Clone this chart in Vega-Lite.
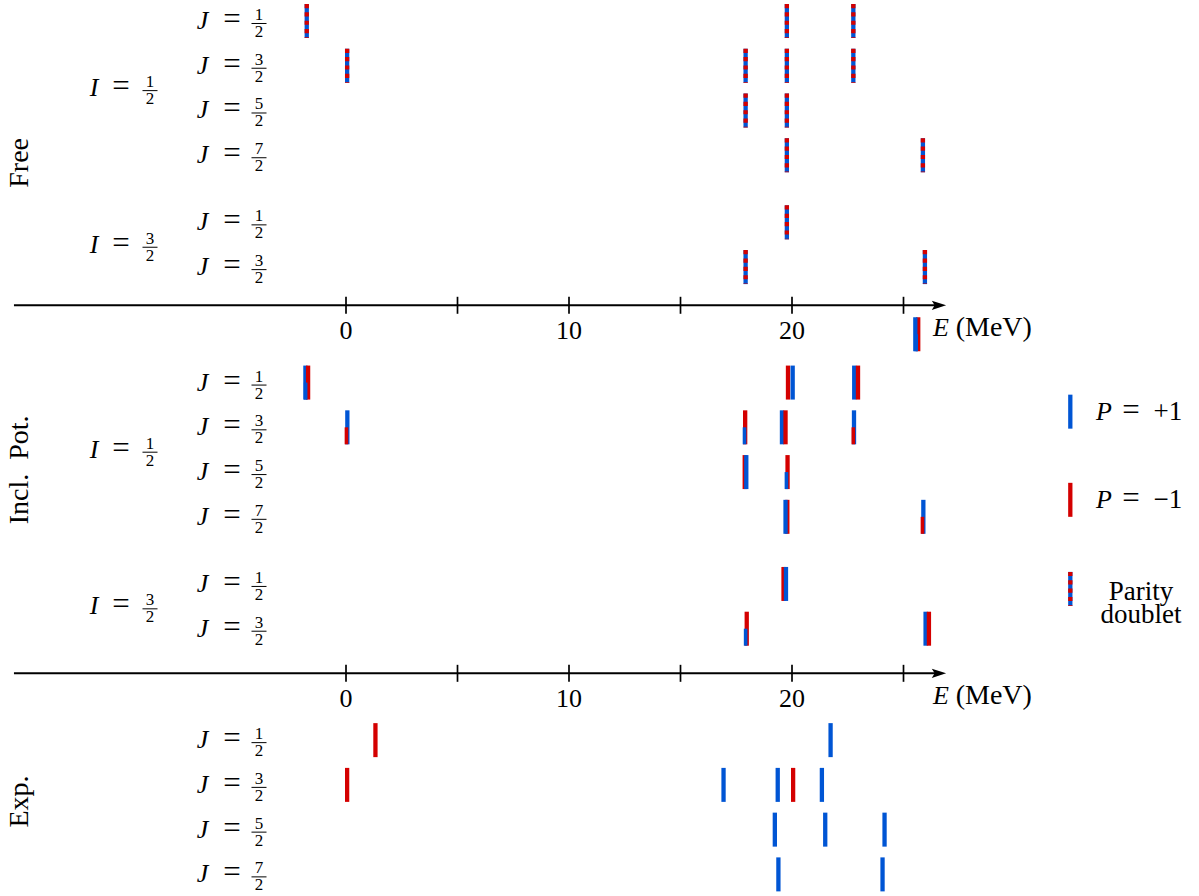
{
  "$schema": "https://vega.github.io/schema/vega-lite/v6.json",
  "width": 1199,
  "height": 896,
  "autosize": {"type": "fit", "contains": "padding"},
  "padding": 0,
  "background": "white",
  "view": {"stroke": null},
  "datasets": {
    "axes": [{"row": 6.353}, {"row": 14.577}],
    "ticks": [
      {"E": 0, "row": 6.353, "label": "0"}, {"E": 5, "row": 6.353, "label": ""}, {"E": 10, "row": 6.353, "label": "10"},
      {"E": 15, "row": 6.353, "label": ""}, {"E": 20, "row": 6.353, "label": "20"}, {"E": 25, "row": 6.353, "label": ""},
      {"E": 0, "row": 14.577, "label": "0"}, {"E": 5, "row": 14.577, "label": ""}, {"E": 10, "row": 14.577, "label": "10"},
      {"E": 15, "row": 14.577, "label": ""}, {"E": 20, "row": 14.577, "label": "20"}, {"E": 25, "row": 14.577, "label": ""}
    ],
    "free": [
      {"E": -1.76, "row": 0}, {"E": 19.77, "row": 0}, {"E": 22.75, "row": 0},
      {"E": 0.05, "row": 1}, {"E": 17.92, "row": 1}, {"E": 19.77, "row": 1}, {"E": 22.75, "row": 1},
      {"E": 17.92, "row": 2}, {"E": 19.77, "row": 2},
      {"E": 19.77, "row": 3}, {"E": 25.87, "row": 3},
      {"E": 19.77, "row": 4.5},
      {"E": 17.92, "row": 5.5}, {"E": 25.96, "row": 5.5}
    ],
    "levels": [
      {"E": 25.66, "row": 7.0, "P": "-", "part": "full"}, {"E": 25.53, "row": 7.0, "P": "+", "part": "full"}, {"E": 25.57, "row": 7.0, "P": "+", "part": "lower"},
      {"E": -1.82, "row": 8.08, "P": "+", "part": "full"}, {"E": -1.70, "row": 8.08, "P": "-", "part": "full"}, {"E": -1.81, "row": 8.08, "P": "+", "part": "lower"},
      {"E": 19.82, "row": 8.08, "P": "-", "part": "full"}, {"E": 20.03, "row": 8.08, "P": "+", "part": "full"},
      {"E": 22.79, "row": 8.08, "P": "+", "part": "full"}, {"E": 22.96, "row": 8.08, "P": "-", "part": "full"},
      {"E": 0.06, "row": 9.08, "P": "+", "part": "full"}, {"E": 0.02, "row": 9.08, "P": "-", "part": "lower"},
      {"E": 17.90, "row": 9.08, "P": "-", "part": "full"}, {"E": 17.87, "row": 9.08, "P": "+", "part": "lower"},
      {"E": 19.55, "row": 9.08, "P": "+", "part": "full"}, {"E": 19.71, "row": 9.08, "P": "-", "part": "full"},
      {"E": 22.78, "row": 9.08, "P": "+", "part": "full"}, {"E": 22.75, "row": 9.08, "P": "-", "part": "lower"},
      {"E": 17.88, "row": 10.08, "P": "-", "part": "full"}, {"E": 17.95, "row": 10.08, "P": "+", "part": "full"},
      {"E": 19.80, "row": 10.08, "P": "-", "part": "full"}, {"E": 19.75, "row": 10.08, "P": "+", "part": "lower"},
      {"E": 19.79, "row": 11.08, "P": "-", "part": "full"}, {"E": 19.71, "row": 11.08, "P": "+", "part": "full"},
      {"E": 25.89, "row": 11.08, "P": "+", "part": "full"}, {"E": 25.85, "row": 11.08, "P": "-", "part": "lower"},
      {"E": 19.62, "row": 12.58, "P": "-", "part": "full"}, {"E": 19.73, "row": 12.58, "P": "+", "part": "full"},
      {"E": 17.97, "row": 13.58, "P": "-", "part": "full"}, {"E": 17.92, "row": 13.58, "P": "+", "part": "lower"},
      {"E": 25.99, "row": 13.58, "P": "+", "part": "full"}, {"E": 26.14, "row": 13.58, "P": "-", "part": "full"},
      {"E": 1.32, "row": 16.07, "P": "-", "part": "full"}, {"E": 21.73, "row": 16.07, "P": "+", "part": "full"},
      {"E": 0.05, "row": 17.07, "P": "-", "part": "full"}, {"E": 16.93, "row": 17.07, "P": "+", "part": "full"},
      {"E": 19.36, "row": 17.07, "P": "+", "part": "full"}, {"E": 20.05, "row": 17.07, "P": "-", "part": "full"},
      {"E": 21.34, "row": 17.07, "P": "+", "part": "full"},
      {"E": 19.23, "row": 18.07, "P": "+", "part": "full"}, {"E": 21.49, "row": 18.07, "P": "+", "part": "full"},
      {"E": 24.15, "row": 18.07, "P": "+", "part": "full"},
      {"E": 19.39, "row": 19.07, "P": "+", "part": "full"}, {"E": 24.06, "row": 19.07, "P": "+", "part": "full"}
    ],
    "jl": [
      {"row": 0, "num": "1"}, {"row": 1, "num": "3"}, {"row": 2, "num": "5"}, {"row": 3, "num": "7"},
      {"row": 4.5, "num": "1"}, {"row": 5.5, "num": "3"},
      {"row": 8.08, "num": "1"}, {"row": 9.08, "num": "3"}, {"row": 10.08, "num": "5"}, {"row": 11.08, "num": "7"},
      {"row": 12.58, "num": "1"}, {"row": 13.58, "num": "3"},
      {"row": 16.07, "num": "1"}, {"row": 17.07, "num": "3"}, {"row": 18.07, "num": "5"}, {"row": 19.07, "num": "7"}
    ],
    "il": [
      {"row": 1.5, "num": "1"}, {"row": 5.0, "num": "3"}, {"row": 9.58, "num": "1"}, {"row": 13.08, "num": "3"}
    ],
    "panels": [
      {"row": 3.17, "label": "Free"}, {"row": 10.03, "label": "Incl.\u00a0 Pot."}, {"row": 17.44, "label": "Exp."}
    ],
    "legend": [
      {"row": 8.73, "P": "+", "sym": "+1"}, {"row": 10.7, "P": "-", "sym": "\u22121"}
    ],
    "dlegend": [{"row": 12.69}]
  },
  "layer": [
    {
      "data": {"name": "axes"},
      "mark": {"type": "rule", "color": "black", "strokeWidth": 2},
      "encoding": {
        "x": {"datum": -14.89, "type": "quantitative", "scale": {"domain": [-15.516, 38.251], "nice": false, "zero": false}, "axis": null},
        "x2": {"datum": 26.5},
        "y": {"field": "row", "type": "quantitative", "scale": {"domain": [-0.469, 19.553], "nice": false, "zero": false, "reverse": true}, "axis": null}
      }
    },
    {
      "data": {"name": "axes"},
      "mark": {"type": "point", "shape": "M1,0L-1,-0.65L-0.6,0L-1,0.65Z", "filled": true, "opacity": 1, "color": "black", "size": 205},
      "encoding": {
        "x": {"datum": 26.59, "type": "quantitative", "scale": {"domain": [-15.516, 38.251], "nice": false, "zero": false}, "axis": null},
        "y": {"field": "row", "type": "quantitative", "scale": {"domain": [-0.469, 19.553], "nice": false, "zero": false, "reverse": true}, "axis": null}
      }
    },
    {
      "data": {"name": "ticks"},
      "mark": {"type": "rule", "color": "black", "strokeWidth": 1.7, "yOffset": -8.5, "y2Offset": 8.5},
      "encoding": {
        "x": {"field": "E", "type": "quantitative", "scale": {"domain": [-15.516, 38.251], "nice": false, "zero": false}, "axis": null},
        "y": {"field": "row", "type": "quantitative", "scale": {"domain": [-0.469, 19.553], "nice": false, "zero": false, "reverse": true}, "axis": null},
        "y2": {"field": "row"}
      }
    },
    {
      "data": {"name": "ticks"},
      "transform": [{"filter": "datum.label != ''"}],
      "mark": {"type": "text", "font": "Liberation Serif", "fontSize": 26, "align": "center", "baseline": "middle", "dy": 26, "color": "black"},
      "encoding": {
        "x": {"field": "E", "type": "quantitative", "scale": {"domain": [-15.516, 38.251], "nice": false, "zero": false}, "axis": null},
        "y": {"field": "row", "type": "quantitative", "scale": {"domain": [-0.469, 19.553], "nice": false, "zero": false, "reverse": true}, "axis": null},
        "text": {"field": "label"}
      }
    },
    {
      "data": {"name": "axes"},
      "mark": {"type": "text", "text": "E", "font": "Liberation Serif", "fontStyle": "italic", "fontSize": 26, "align": "center", "baseline": "middle", "dy": 23, "color": "black"},
      "encoding": {
        "x": {"datum": 26.68, "type": "quantitative", "scale": {"domain": [-15.516, 38.251], "nice": false, "zero": false}, "axis": null},
        "y": {"field": "row", "type": "quantitative", "scale": {"domain": [-0.469, 19.553], "nice": false, "zero": false, "reverse": true}, "axis": null}
      }
    },
    {
      "data": {"name": "axes"},
      "mark": {"type": "text", "text": "(MeV)", "font": "Liberation Serif", "fontSize": 28, "align": "center", "baseline": "middle", "dy": 23, "color": "black"},
      "encoding": {
        "x": {"datum": 29.05, "type": "quantitative", "scale": {"domain": [-15.516, 38.251], "nice": false, "zero": false}, "axis": null},
        "y": {"field": "row", "type": "quantitative", "scale": {"domain": [-0.469, 19.553], "nice": false, "zero": false, "reverse": true}, "axis": null}
      }
    },
    {
      "data": {"name": "free"},
      "mark": {"type": "rule", "color": "#0055d4", "strokeWidth": 4.3, "yOffset": -17, "y2Offset": 17},
      "encoding": {
        "x": {"field": "E", "type": "quantitative", "scale": {"domain": [-15.516, 38.251], "nice": false, "zero": false}, "axis": null},
        "y": {"field": "row", "type": "quantitative", "scale": {"domain": [-0.469, 19.553], "nice": false, "zero": false, "reverse": true}, "axis": null},
        "y2": {"field": "row"}
      }
    },
    {
      "data": {"name": "free"},
      "mark": {"type": "rule", "color": "#d40000", "strokeWidth": 4.3, "yOffset": -17, "y2Offset": 17, "strokeDash": [4.17, 4.17]},
      "encoding": {
        "x": {"field": "E", "type": "quantitative", "scale": {"domain": [-15.516, 38.251], "nice": false, "zero": false}, "axis": null},
        "y": {"field": "row", "type": "quantitative", "scale": {"domain": [-0.469, 19.553], "nice": false, "zero": false, "reverse": true}, "axis": null},
        "y2": {"field": "row"}
      }
    },
    {
      "data": {"name": "levels"},
      "transform": [{"filter": "datum.part == 'full'"}],
      "mark": {"type": "rule", "strokeWidth": 4.3, "yOffset": -17, "y2Offset": 17},
      "encoding": {
        "x": {"field": "E", "type": "quantitative", "scale": {"domain": [-15.516, 38.251], "nice": false, "zero": false}, "axis": null},
        "y": {"field": "row", "type": "quantitative", "scale": {"domain": [-0.469, 19.553], "nice": false, "zero": false, "reverse": true}, "axis": null},
        "y2": {"field": "row"},
        "color": {"field": "P", "type": "nominal", "scale": {"domain": ["+", "-"], "range": ["#0055d4", "#d40000"]}, "legend": null}
      }
    },
    {
      "data": {"name": "levels"},
      "transform": [{"filter": "datum.part == 'lower'"}],
      "mark": {"type": "rule", "strokeWidth": 3.6, "yOffset": 0, "y2Offset": 17},
      "encoding": {
        "x": {"field": "E", "type": "quantitative", "scale": {"domain": [-15.516, 38.251], "nice": false, "zero": false}, "axis": null},
        "y": {"field": "row", "type": "quantitative", "scale": {"domain": [-0.469, 19.553], "nice": false, "zero": false, "reverse": true}, "axis": null},
        "y2": {"field": "row"},
        "color": {"field": "P", "type": "nominal", "scale": {"domain": ["+", "-"], "range": ["#0055d4", "#d40000"]}, "legend": null}
      }
    },
    {
      "data": {"name": "jl"},
      "mark": {"type": "text", "text": "J", "font": "Liberation Serif", "fontStyle": "italic", "fontSize": 26, "align": "center", "baseline": "middle", "color": "black"},
      "encoding": {
        "x": {"datum": -6.43, "type": "quantitative", "scale": {"domain": [-15.516, 38.251], "nice": false, "zero": false}, "axis": null},
        "y": {"field": "row", "type": "quantitative", "scale": {"domain": [-0.469, 19.553], "nice": false, "zero": false, "reverse": true}, "axis": null}
      }
    },
    {
      "data": {"name": "jl"},
      "mark": {"type": "text", "text": "=", "font": "Liberation Serif", "fontSize": 31, "align": "center", "baseline": "middle", "dy": -1, "color": "black"},
      "encoding": {
        "x": {"datum": -5.11, "type": "quantitative", "scale": {"domain": [-15.516, 38.251], "nice": false, "zero": false}, "axis": null},
        "y": {"field": "row", "type": "quantitative", "scale": {"domain": [-0.469, 19.553], "nice": false, "zero": false, "reverse": true}, "axis": null}
      }
    },
    {
      "data": {"name": "jl"},
      "mark": {"type": "text", "font": "Liberation Serif", "fontSize": 17, "align": "center", "baseline": "middle", "dy": -6, "color": "black"},
      "encoding": {
        "x": {"datum": -3.90, "type": "quantitative", "scale": {"domain": [-15.516, 38.251], "nice": false, "zero": false}, "axis": null},
        "y": {"field": "row", "type": "quantitative", "scale": {"domain": [-0.469, 19.553], "nice": false, "zero": false, "reverse": true}, "axis": null},
        "text": {"field": "num"}
      }
    },
    {
      "data": {"name": "jl"},
      "mark": {"type": "text", "text": "2", "font": "Liberation Serif", "fontSize": 17, "align": "center", "baseline": "middle", "dy": 11, "color": "black"},
      "encoding": {
        "x": {"datum": -3.90, "type": "quantitative", "scale": {"domain": [-15.516, 38.251], "nice": false, "zero": false}, "axis": null},
        "y": {"field": "row", "type": "quantitative", "scale": {"domain": [-0.469, 19.553], "nice": false, "zero": false, "reverse": true}, "axis": null}
      }
    },
    {
      "data": {"name": "jl"},
      "mark": {"type": "rule", "color": "black", "strokeWidth": 1, "yOffset": 2.5},
      "encoding": {
        "x": {"datum": -4.238, "type": "quantitative", "scale": {"domain": [-15.516, 38.251], "nice": false, "zero": false}, "axis": null},
        "x2": {"datum": -3.565},
        "y": {"field": "row", "type": "quantitative", "scale": {"domain": [-0.469, 19.553], "nice": false, "zero": false, "reverse": true}, "axis": null}
      }
    },
    {
      "data": {"name": "il"},
      "mark": {"type": "text", "text": "I", "font": "Liberation Serif", "fontStyle": "italic", "fontSize": 26, "align": "center", "baseline": "middle", "color": "black"},
      "encoding": {
        "x": {"datum": -11.30, "type": "quantitative", "scale": {"domain": [-15.516, 38.251], "nice": false, "zero": false}, "axis": null},
        "y": {"field": "row", "type": "quantitative", "scale": {"domain": [-0.469, 19.553], "nice": false, "zero": false, "reverse": true}, "axis": null}
      }
    },
    {
      "data": {"name": "il"},
      "mark": {"type": "text", "text": "=", "font": "Liberation Serif", "fontSize": 31, "align": "center", "baseline": "middle", "dy": -1, "color": "black"},
      "encoding": {
        "x": {"datum": -10.09, "type": "quantitative", "scale": {"domain": [-15.516, 38.251], "nice": false, "zero": false}, "axis": null},
        "y": {"field": "row", "type": "quantitative", "scale": {"domain": [-0.469, 19.553], "nice": false, "zero": false, "reverse": true}, "axis": null}
      }
    },
    {
      "data": {"name": "il"},
      "mark": {"type": "text", "font": "Liberation Serif", "fontSize": 17, "align": "center", "baseline": "middle", "dy": -6, "color": "black"},
      "encoding": {
        "x": {"datum": -8.79, "type": "quantitative", "scale": {"domain": [-15.516, 38.251], "nice": false, "zero": false}, "axis": null},
        "y": {"field": "row", "type": "quantitative", "scale": {"domain": [-0.469, 19.553], "nice": false, "zero": false, "reverse": true}, "axis": null},
        "text": {"field": "num"}
      }
    },
    {
      "data": {"name": "il"},
      "mark": {"type": "text", "text": "2", "font": "Liberation Serif", "fontSize": 17, "align": "center", "baseline": "middle", "dy": 11, "color": "black"},
      "encoding": {
        "x": {"datum": -8.79, "type": "quantitative", "scale": {"domain": [-15.516, 38.251], "nice": false, "zero": false}, "axis": null},
        "y": {"field": "row", "type": "quantitative", "scale": {"domain": [-0.469, 19.553], "nice": false, "zero": false, "reverse": true}, "axis": null}
      }
    },
    {
      "data": {"name": "il"},
      "mark": {"type": "rule", "color": "black", "strokeWidth": 1, "yOffset": 2.5},
      "encoding": {
        "x": {"datum": -9.126, "type": "quantitative", "scale": {"domain": [-15.516, 38.251], "nice": false, "zero": false}, "axis": null},
        "x2": {"datum": -8.453},
        "y": {"field": "row", "type": "quantitative", "scale": {"domain": [-0.469, 19.553], "nice": false, "zero": false, "reverse": true}, "axis": null}
      }
    },
    {
      "data": {"name": "panels"},
      "mark": {"type": "text", "font": "Liberation Serif", "fontSize": 28, "align": "center", "baseline": "middle", "angle": 270, "color": "black"},
      "encoding": {
        "x": {"datum": -14.62, "type": "quantitative", "scale": {"domain": [-15.516, 38.251], "nice": false, "zero": false}, "axis": null},
        "y": {"field": "row", "type": "quantitative", "scale": {"domain": [-0.469, 19.553], "nice": false, "zero": false, "reverse": true}, "axis": null},
        "text": {"field": "label"}
      }
    },
    {
      "data": {"name": "legend"},
      "mark": {"type": "rule", "strokeWidth": 4.3, "yOffset": -17, "y2Offset": 17},
      "encoding": {
        "x": {"datum": 32.48, "type": "quantitative", "scale": {"domain": [-15.516, 38.251], "nice": false, "zero": false}, "axis": null},
        "y": {"field": "row", "type": "quantitative", "scale": {"domain": [-0.469, 19.553], "nice": false, "zero": false, "reverse": true}, "axis": null},
        "y2": {"field": "row"},
        "color": {"field": "P", "type": "nominal", "scale": {"domain": ["+", "-"], "range": ["#0055d4", "#d40000"]}, "legend": null}
      }
    },
    {
      "data": {"name": "dlegend"},
      "mark": {"type": "rule", "color": "#0055d4", "strokeWidth": 4.3, "yOffset": -17, "y2Offset": 17},
      "encoding": {
        "x": {"datum": 32.48, "type": "quantitative", "scale": {"domain": [-15.516, 38.251], "nice": false, "zero": false}, "axis": null},
        "y": {"field": "row", "type": "quantitative", "scale": {"domain": [-0.469, 19.553], "nice": false, "zero": false, "reverse": true}, "axis": null},
        "y2": {"field": "row"}
      }
    },
    {
      "data": {"name": "dlegend"},
      "mark": {"type": "rule", "color": "#d40000", "strokeWidth": 4.3, "yOffset": -17, "y2Offset": 17, "strokeDash": [4.17, 4.17]},
      "encoding": {
        "x": {"datum": 32.48, "type": "quantitative", "scale": {"domain": [-15.516, 38.251], "nice": false, "zero": false}, "axis": null},
        "y": {"field": "row", "type": "quantitative", "scale": {"domain": [-0.469, 19.553], "nice": false, "zero": false, "reverse": true}, "axis": null},
        "y2": {"field": "row"}
      }
    },
    {
      "data": {"name": "legend"},
      "mark": {"type": "text", "text": "P", "font": "Liberation Serif", "fontStyle": "italic", "fontSize": 26, "align": "center", "baseline": "middle", "color": "black"},
      "encoding": {
        "x": {"datum": 33.99, "type": "quantitative", "scale": {"domain": [-15.516, 38.251], "nice": false, "zero": false}, "axis": null},
        "y": {"field": "row", "type": "quantitative", "scale": {"domain": [-0.469, 19.553], "nice": false, "zero": false, "reverse": true}, "axis": null}
      }
    },
    {
      "data": {"name": "legend"},
      "mark": {"type": "text", "text": "=", "font": "Liberation Serif", "fontSize": 31, "align": "center", "baseline": "middle", "dy": -1, "color": "black"},
      "encoding": {
        "x": {"datum": 35.20, "type": "quantitative", "scale": {"domain": [-15.516, 38.251], "nice": false, "zero": false}, "axis": null},
        "y": {"field": "row", "type": "quantitative", "scale": {"domain": [-0.469, 19.553], "nice": false, "zero": false, "reverse": true}, "axis": null}
      }
    },
    {
      "data": {"name": "legend"},
      "mark": {"type": "text", "font": "Liberation Serif", "fontSize": 27, "align": "center", "baseline": "middle", "color": "black"},
      "encoding": {
        "x": {"datum": 36.86, "type": "quantitative", "scale": {"domain": [-15.516, 38.251], "nice": false, "zero": false}, "axis": null},
        "y": {"field": "row", "type": "quantitative", "scale": {"domain": [-0.469, 19.553], "nice": false, "zero": false, "reverse": true}, "axis": null},
        "text": {"field": "sym"}
      }
    },
    {
      "data": {"name": "dlegend"},
      "mark": {"type": "text", "text": ["Parity", "doublet"], "lineHeight": 23, "font": "Liberation Serif", "fontSize": 27, "align": "center", "baseline": "middle", "dy": 3.5, "color": "black"},
      "encoding": {
        "x": {"datum": 35.65, "type": "quantitative", "scale": {"domain": [-15.516, 38.251], "nice": false, "zero": false}, "axis": null},
        "y": {"field": "row", "type": "quantitative", "scale": {"domain": [-0.469, 19.553], "nice": false, "zero": false, "reverse": true}, "axis": null}
      }
    }
  ]
}
